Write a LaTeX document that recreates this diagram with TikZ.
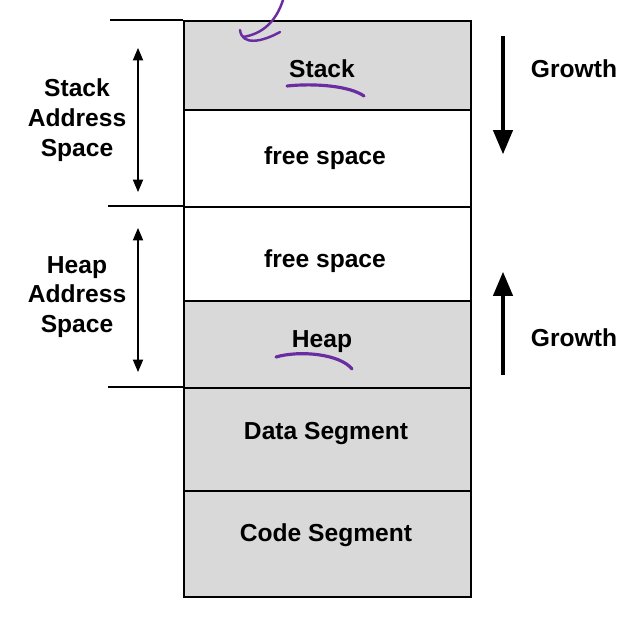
\documentclass[tikz,border=0pt]{standalone}
\usepackage{fontspec}
\setmainfont{Liberation Sans}
\usepackage{xcolor}
\usetikzlibrary{arrows,positioning}
\definecolor{seggray}{HTML}{D9D9D9}
\definecolor{pen}{HTML}{6A2CA0}
\begin{document}
\begin{tikzpicture}[x=0.02cm, y=-0.02cm, thick,
  font=\fontsize{14}{17}\selectfont\bfseries]
\tikzstyle{segment} = [draw, line width=1.1pt, anchor=north, minimum width=5.74cm, inner sep=0pt]
\tikzstyle{side} = [align=center]
\tikzset{ink/.style={pen, line width=1.4pt, line cap=round}}
\useasboundingbox (0,0) rectangle (632,619);
% memory segments
\node[segment, fill=seggray, minimum height=1.78cm] (stack) at (327.5,20) {};
\node[segment, minimum height=1.94cm] (sfree) at (327.5,109) {};
\node[segment, minimum height=1.88cm] (hfree) at (327.5,206) {};
\node[segment, fill=seggray, minimum height=1.74cm] (heap) at (327.5,300) {};
\node[segment, fill=seggray, minimum height=2.06cm] (data) at (327.5,387) {};
\node[segment, fill=seggray, minimum height=2.12cm] (code) at (327.5,490) {};
\node at (322,69) {Stack};
\node at (325,158) {free space};
\node at (325,261) {free space};
\node at (322,342) {Heap};
\node at (326,434) {Data Segment};
\node at (326,535) {Code Segment};
% address space marks
\coordinate (t1) at (110,20);
\coordinate (t2) at (108,206);
\coordinate (t3) at (108,387);
\draw[line width=0.6pt] (t1) -- (stack.north west);
\draw[line width=0.6pt] (t2) -- (hfree.north west);
\draw[line width=0.6pt] (t3) -- (data.north west);
\coordinate (sa) at (138,48);
\coordinate (sb) at (138,192);
\coordinate (ha) at (138,228);
\coordinate (hb) at (138,372);
\draw[line width=0.6pt, triangle 45-triangle 45] (sa) -- (sb);
\draw[line width=0.6pt, triangle 45-triangle 45] (ha) -- (hb);
\node[side] (sas) at (77,120) {Stack\\Address\\Space};
\node[side] (has) at (77,297) {Heap\\Address\\Space};
% growth
\coordinate (g1) at (503,36);
\coordinate (g2) at (503,154);
\coordinate (g3) at (503,375);
\coordinate (g4) at (503,272);
\draw[line width=2.2pt, -triangle 45] (g1) -- (g2);
\draw[line width=2.2pt, -triangle 45] (g3) -- (g4);
\node (gs) at (574,69) {Growth};
\node (gh) at (574,338) {Growth};
% pen marks
\draw[ink] (283,0) .. controls (276,22) and (262,34) .. (243,37);
\draw[ink] (240,30) .. controls (242,46) and (262,42) .. (280,32);
\draw[ink, line width=1.8pt] (287,86) .. controls (315,83) and (350,86) .. (364,96);
\draw[ink, line width=1.8pt] (276,357) .. controls (300,350) and (340,354) .. (352,369);
\end{tikzpicture}
\end{document}
